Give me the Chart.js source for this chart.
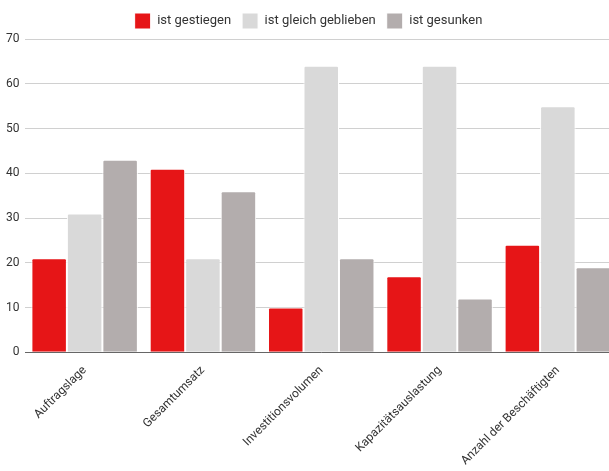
<!DOCTYPE html>
<html>
<head>
<meta charset="utf-8">
<script src="https://cdn.jsdelivr.net/npm/chart.js@4"></script>
<style>
    html, body { margin: 0; padding: 0; background: #fff; overflow: hidden; }
    #wrap { width: 617px; height: 471px; }
</style>
</head>
<body>
<div id="wrap"><canvas id="umfrage"></canvas></div>
<script>
const kategorien = ['Auftragslage', 'Gesamtumsatz', 'Investitionsvolumen', 'Kapazitätsauslastung', 'Anzahl der Beschäftigten'];
const gestiegen = [21, 41, 10, 17, 24];
const gleich = [31, 21, 64, 64, 55];
const gesunken = [43, 36, 21, 12, 19];
const yTicks = [0, 10, 20, 30, 40, 50, 60, 70];

document.addEventListener('DOMContentLoaded', function () {
    umfrage()
})

function umfrage() {
    const ctx = document.getElementById('umfrage');
    Chart.defaults.font.family = 'Roboto, "DejaVu Sans", sans-serif';
    Chart.defaults.font.size = 13;
    Chart.defaults.color = '#333';

    const balken = {
        borderWidth: 1,
        borderColor: '#ffffff',
        borderRadius: 2,
        borderSkipped: 'bottom',
        categoryPercentage: 0.9,
        barPercentage: 1.0
    };

    new Chart(ctx, {
        type: 'bar',
        data: {
            labels: kategorien,
            datasets: [
                Object.assign({ label: 'ist gestiegen', data: gestiegen, backgroundColor: '#e61517' }, balken),
                Object.assign({ label: 'ist gleich geblieben', data: gleich, backgroundColor: '#d9d9d9' }, balken),
                Object.assign({ label: 'ist gesunken', data: gesunken, backgroundColor: '#b3adad' }, balken)
            ]
        },
        options: {
            responsive: true,
            maintainAspectRatio: false,
            animation: false,
            layout: { padding: { left: 0, right: 0, top: 2, bottom: 0 } },
            plugins: {
                legend: {
                    position: 'top',
                    labels: { boxWidth: 16, boxHeight: 16, padding: 11, color: '#333' }
                },
                tooltip: { enabled: false }
            },
            scales: {
                x: {
                    grid: { display: false },
                    border: { color: '#666' },
                    ticks: { maxRotation: 45, minRotation: 45, color: '#333', font: { size: 12 } }
                },
                y: {
                    min: 0,
                    max: 70,
                    afterBuildTicks: function (axis) {
                        axis.ticks = yTicks.map(function (v) { return { value: v }; });
                    },
                    grid: { color: '#d0d0d0', drawTicks: false },
                    border: { display: false },
                    ticks: { padding: 6, color: '#333', font: { size: 12 } }
                }
            }
        }
    });
}
</script>
</body>
</html>
